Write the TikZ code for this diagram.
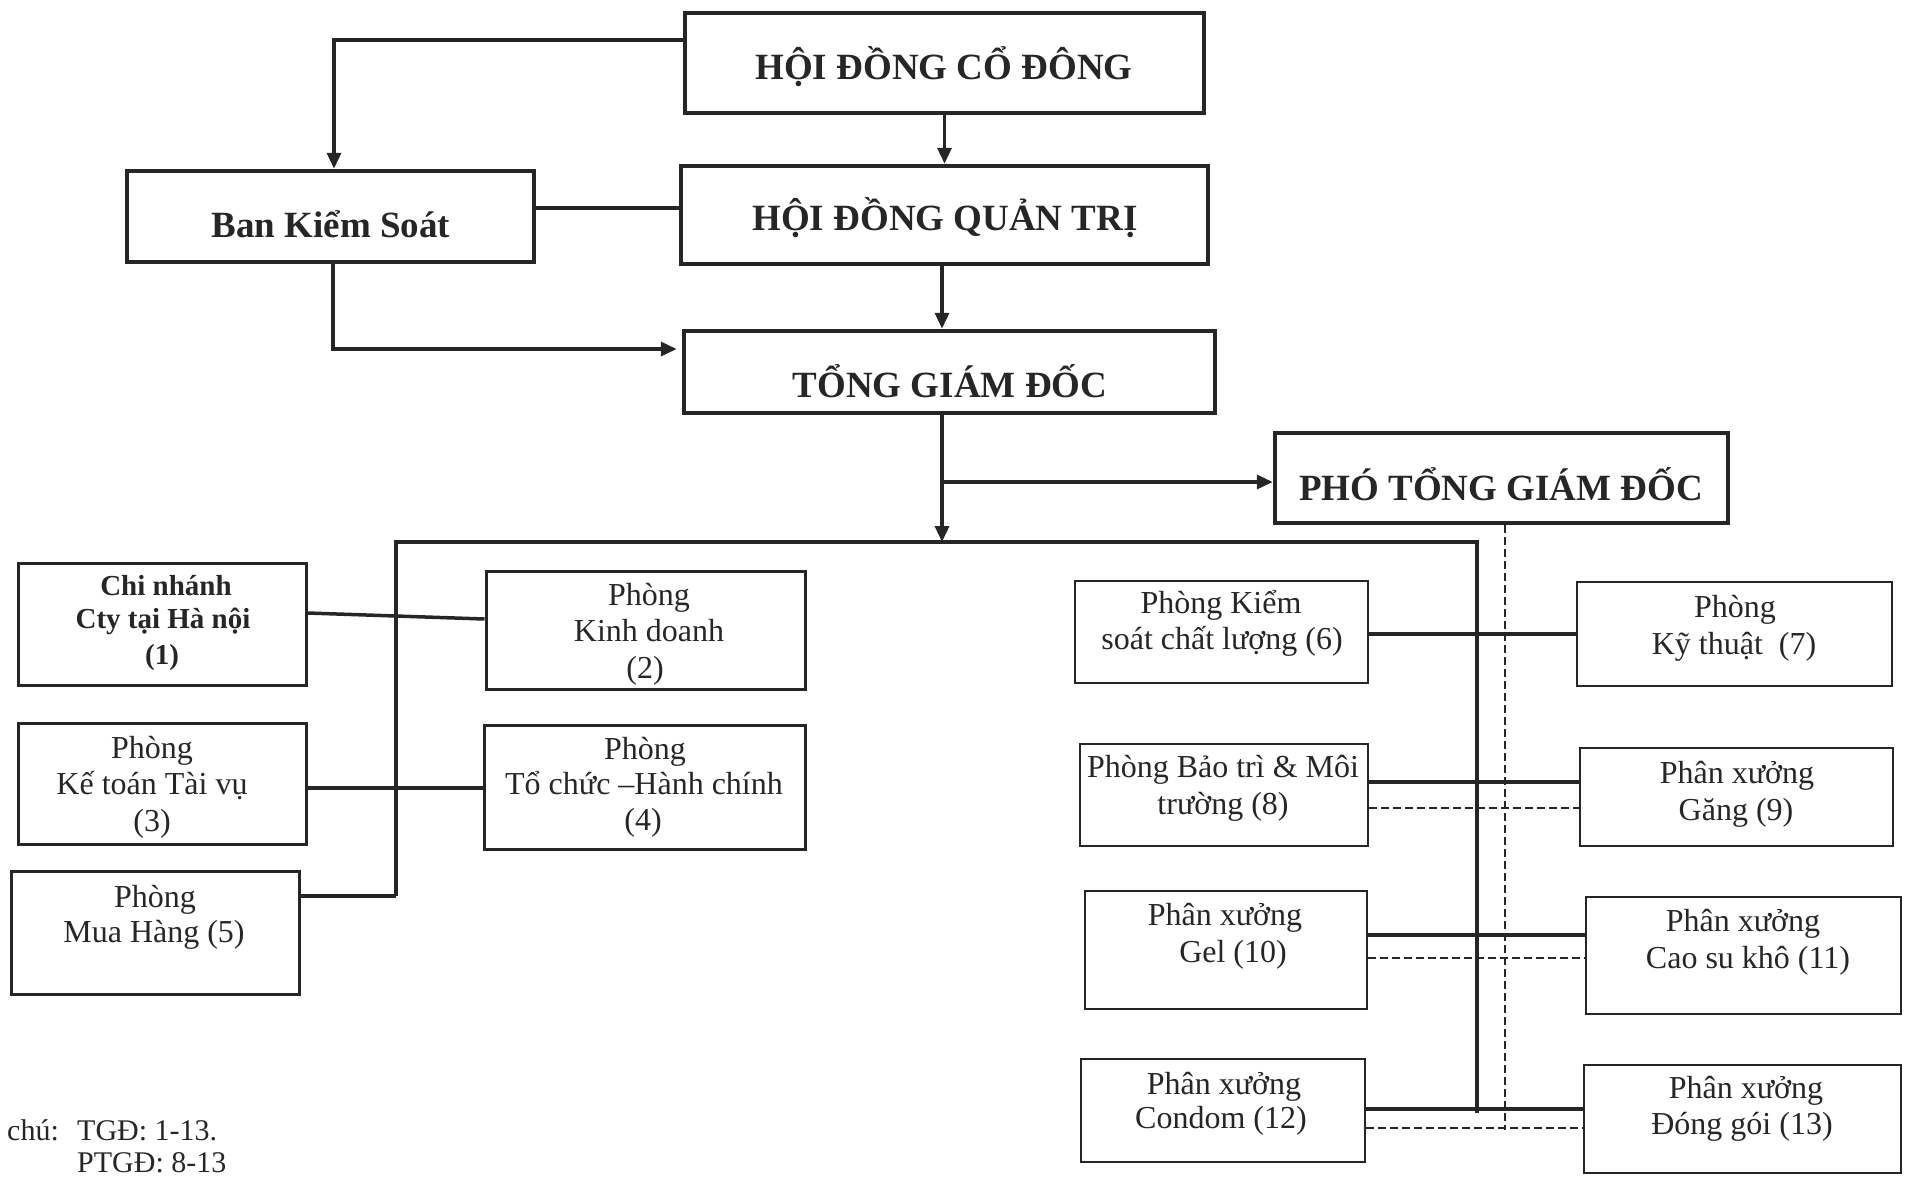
\documentclass[tikz,border=0pt]{standalone}
\usepackage{fontspec}
\setmainfont{Liberation Serif}
\usetikzlibrary{arrows.meta,fit}
\definecolor{ink}{HTML}{262626}
\begin{document}
\begin{tikzpicture}[x=1pt,y=-1pt,
  bigbox/.style={draw=ink,line width=4.5pt,inner sep=0pt},
  midbox/.style={draw=ink,line width=3pt,inner sep=0pt},
  thinbox/.style={draw=ink,line width=2pt,inner sep=0pt},
  bigtxt/.style={font=\fontsize{37}{44}\selectfont\bfseries,text=ink,anchor=base,inner sep=0pt},
  boldtxt/.style={font=\fontsize{29}{34}\selectfont\bfseries,text=ink,anchor=base,inner sep=0pt},
  txt/.style={font=\fontsize{32}{38}\selectfont,text=ink,anchor=base,inner sep=0pt},
  notetxt/.style={font=\fontsize{30}{36}\selectfont,text=ink,anchor=base west,inner sep=0pt},
  conn/.style={draw=ink,line width=3.5pt},
  arr/.style={-{Triangle[length=16pt,width=14pt]}},
  dashline/.style={draw=ink,line width=1.5pt,dash pattern=on 8pt off 4pt},
]
\useasboundingbox (0,0) rectangle (1910,1176);
\clip (0,0) rectangle (1910,1176);

% ---- boxes ----
\node[bigbox,fit={(685,13) (1204,113)}] (hdcd) {};
\node[bigbox,fit={(127,171) (534,262)}] (bks) {};
\node[bigbox,fit={(681,166) (1208,264)}] (hdqt) {};
\node[bigbox,fit={(684,331) (1215,413)}] (tgd) {};
\node[bigbox,fit={(1275,433) (1728,523)}] (ptgd) {};

\node[midbox,fit={(18,563) (306,685)}] (n1) {};
\node[midbox,fit={(486,571) (805,689)}] (n2) {};
\node[midbox,fit={(18,723) (306,844)}] (n3) {};
\node[midbox,fit={(484,725) (805,849)}] (n4) {};
\node[midbox,fit={(11,871) (299,994)}] (n5) {};

\node[thinbox,fit={(1075,581) (1368,683)}] (n6) {};
\node[thinbox,fit={(1577,582) (1892,686)}] (n7) {};
\node[thinbox,fit={(1080,744) (1368,846)}] (n8) {};
\node[thinbox,fit={(1580,748) (1893,846)}] (n9) {};
\node[thinbox,fit={(1085,891) (1367,1009)}] (n10) {};
\node[thinbox,fit={(1586,897) (1901,1014)}] (n11) {};
\node[thinbox,fit={(1081,1059) (1365,1162)}] (n12) {};
\node[thinbox,fit={(1584,1065) (1901,1173)}] (n13) {};

% ---- texts ----
\node[bigtxt] (thdcd) at (944,79) {HỘI ĐỒNG CỔ ĐÔNG};
\node[bigtxt] (thdqt) at (945,230) {HỘI ĐỒNG QUẢN TRỊ};
\node[bigtxt] (ttgd) at (950,397) {TỔNG GIÁM ĐỐC};
\node[bigtxt] (tptgd) at (1501,500) {PHÓ TỔNG GIÁM ĐỐC};
\node[bigtxt] (tbks) at (331,237) {Ban Kiểm Soát};

\node[boldtxt] (t1a) at (166,595) {Chi nhánh};
\node[boldtxt] (t1b) at (163,628) {Cty tại Hà nội};
\node[boldtxt] (t1c) at (162,664) {(1)};

\node[txt] (t2a) at (649,605) {Phòng};
\node[txt] (t2b) at (649,641) {Kinh doanh};
\node[txt] (t2c) at (645,678) {(2)};

\node[txt] (t3a) at (152,758) {Phòng};
\node[txt] (t3b) at (152,794) {Kế toán Tài vụ};
\node[txt] (t3c) at (152,831) {(3)};

\node[txt] (t4a) at (645,759) {Phòng};
\node[txt] (t4b) at (644,794) {Tổ chức –Hành chính};
\node[txt] (t4c) at (643,830) {(4)};

\node[txt] (t5a) at (155,907) {Phòng};
\node[txt] (t5b) at (154,942) {Mua Hàng (5)};

\node[txt] (t6a) at (1221,613) {Phòng Kiểm};
\node[txt] (t6b) at (1222,649) {soát chất lượng (6)};
\node[txt] (t7a) at (1735,617) {Phòng};
\node[txt] (t7b) at (1734,654) {Kỹ thuật~~(7)};
\node[txt] (t8a) at (1223,777) {Phòng Bảo trì \& Môi};
\node[txt] (t8b) at (1223,814) {trường (8)};
\node[txt] (t9a) at (1737,783) {Phân xưởng};
\node[txt] (t9b) at (1736,820) {Găng (9)};
\node[txt] (t10a) at (1225,925) {Phân xưởng};
\node[txt] (t10b) at (1233,962) {Gel (10)};
\node[txt] (t11a) at (1743,931) {Phân xưởng};
\node[txt] (t11b) at (1748,968) {Cao su khô (11)};
\node[txt] (t12a) at (1224,1094) {Phân xưởng};
\node[txt] (t12b) at (1221,1128) {Condom (12)};
\node[txt] (t13a) at (1746,1098) {Phân xưởng};
\node[txt] (t13b) at (1742,1134) {Đóng gói (13)};

\node[notetxt] (nota) at (7,1140) {chú:};
\node[notetxt] (notb) at (77,1140) {TGĐ: 1-13.};
\node[notetxt] (notc) at (77,1172) {PTGĐ: 8-13};

% ---- connectors (top) ----
\coordinate (c1) at (334,40);
\draw[conn,arr] (hdcd.west |- c1) -- (c1) -- (c1 |- bks.north);
\draw[conn,arr] (hdcd.south) -- (hdqt.north);
\draw[conn] (bks.east |- 0,208) -- (hdqt.west |- 0,208);
\coordinate (c4) at (942,300);
\draw[conn,arr] (c4 |- hdqt.south) -- (c4 |- tgd.north);
\coordinate (c2) at (333,349);
\draw[conn,arr,shorten >=5pt] (c2 |- bks.south) -- (c2) -- (tgd.west |- c2);
\coordinate (bustop) at (942,542);
\draw[conn,arr] (bustop |- tgd.south) -- (bustop);
\coordinate (c3) at (942,482);
\draw[conn,arr] (c3) -- (ptgd.west |- c3);

% ---- buses ----
\coordinate (busL) at (396,542);
\coordinate (busR) at (1477,542);
\coordinate (busLb) at (396,896);
\coordinate (busRb) at (1477,1113);
\draw[conn] (busLb) -- (busL) -- (busR) -- (busRb);

% ---- left branches ----
\draw[conn] (n1.east |- 0,613) -- (n2.west |- 0,619);
\draw[conn] (n3.east |- 0,788) -- (n4.west |- 0,788);
\draw[conn] (n5.east |- busLb) -- (busLb);

% ---- right branches ----
\draw[conn] (n6.east |- 0,634) -- (n7.west |- 0,634);
\draw[conn] (n8.east |- 0,782) -- (n9.west |- 0,782);
\draw[conn] (n10.east |- 0,935) -- (n11.west |- 0,935);
\draw[conn] (n12.east |- 0,1109) -- (n13.west |- 0,1109);

\draw[dashline] (n8.east |- 0,808) -- (n9.west |- 0,808);
\draw[dashline] (n10.east |- 0,958) -- (n11.west |- 0,958);
\draw[dashline] (n12.east |- 0,1128) -- (n13.west |- 0,1128);
\coordinate (dv) at (1505,1130);
\draw[dashline] (dv |- ptgd.south) -- (dv);
\end{tikzpicture}
\end{document}
